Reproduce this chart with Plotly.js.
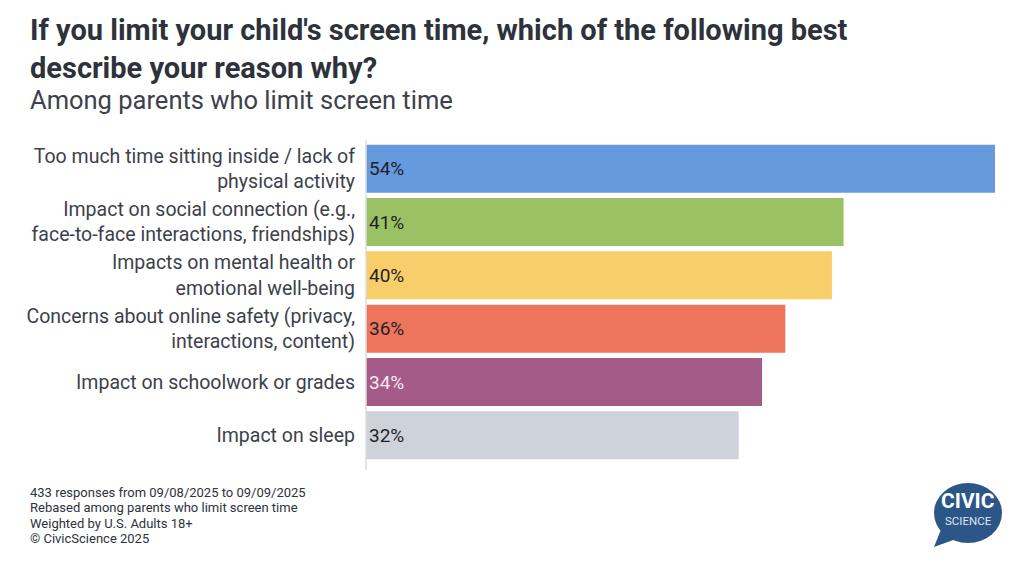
<!DOCTYPE html>
<html>
<head>
<meta charset="utf-8">
<script src="https://cdn.plot.ly/plotly-3.0.1.min.js"></script>
<style>html,body{margin:0;padding:0;background:#fff;}#chart{width:1024px;height:569px;}</style>
</head>
<body>
<div id="chart"></div>
<script>
const categories = [
  "Too much time sitting inside / lack of<br>physical activity",
  "Impact on social connection (e.g.,<br>face-to-face interactions, friendships)",
  "Impacts on mental health or<br>emotional well-being",
  "Concerns about online safety (privacy,<br>interactions, content)",
  "Impact on schoolwork or grades",
  "Impact on sleep"
];
const values = [54, 41, 40, 36, 34, 32];
const barColors = ["#6699dd", "#9ac163", "#f8ce6b", "#ec755c", "#a55b88", "#ced3da"];
const textColors = ["#1f2329", "#1f2329", "#1f2329", "#1f2329", "#f4eaf2", "#1f2329"];
const titleLines = [
  "If you limit your child's screen time, which of the following best",
  "describe your reason why?"
];
const subtitleText = "Among parents who limit screen time";
const footnoteLines = [
  "433 responses from 09/08/2025 to 09/09/2025",
  "Rebased among parents who limit screen time",
  "Weighted by U.S. Adults 18+",
  "© CivicScience 2025"
];

const FONT = "Roboto, 'Noto Sans', sans-serif";

const trace = {
  type: "bar",
  orientation: "h",
  y: categories,
  x: values,
  text: values.map(v => v + "%"),
  textposition: "inside",
  insidetextanchor: "start",
  textfont: {family: FONT, size: 19, color: textColors},
  marker: {color: barColors, line: {width: 0}},
  hoverinfo: "skip",
  cliponaxis: false
};

const W = 1024, H = 569;
const mL = 366, mR = 29, mT = 142, mB = 107;
const plotW = W - mL - mR, plotH = H - mT - mB;
const px = x => (x - mL) / plotW;
const py = y => (H - mB - y) / plotH;

const textAnn = (txt, xPix, yPix, size, color, bold) => ({
  xref: "paper", yref: "paper", x: px(xPix), y: py(yPix),
  xanchor: "left", yanchor: "middle", showarrow: false, align: "left",
  text: bold ? "<b>" + txt + "</b>" : txt,
  font: {family: FONT, size: size, color: color}
});

const footY = [492, 507, 523, 538];

const annotations = [];
annotations.push(textAnn(titleLines.join("<br>"), 28, 49, 29, "#2d323b", true));
annotations.push(textAnn(subtitleText, 28, 100, 25.5, "#3c414b", false));
footnoteLines.forEach((t, i) => annotations.push(textAnn(t, 28, footY[i], 13, "#2d323b", false)));
annotations.push({xref: "paper", yref: "paper", x: px(968), y: py(501), xanchor: "center", yanchor: "middle",
  text: "<b>CIVIC</b>", showarrow: false, font: {family: FONT, size: 21, color: "#ffffff"}});
annotations.push({xref: "paper", yref: "paper", x: px(968), y: py(521), xanchor: "center", yanchor: "middle",
  text: "SCIENCE", showarrow: false, font: {family: FONT, size: 11.5, color: "#dfe6ef"}});

const layout = {
  width: W, height: H,
  margin: {l: mL, r: mR, t: mT, b: mB, pad: 0},
  paper_bgcolor: "#ffffff",
  plot_bgcolor: "#ffffff",
  showlegend: false,
  bargap: 0.1,
  font: {family: FONT, color: "#3c414b"},
  xaxis: {range: [0, 54], visible: false, fixedrange: true},
  yaxis: {
    autorange: "reversed",
    showline: false, showgrid: false, zeroline: false,
    ticks: "", ticklabelstandoff: 10,
    tickfont: {family: FONT, size: 19.5, color: "#3c414b"},
    fixedrange: true
  },
  shapes: [
    {type: "line", xref: "paper", yref: "paper", x0: 0, x1: 0,
     y0: py(470), y1: py(140), line: {color: "#dcdcdc", width: 1.5}},
    {type: "circle", xref: "paper", yref: "paper",
     xsizemode: "pixel", ysizemode: "pixel",
     xanchor: px(968), yanchor: py(513),
     x0: -34, x1: 34, y0: -30, y1: 30,
     fillcolor: "#2c5688", line: {width: 0}},
    {type: "path", xref: "paper", yref: "paper",
     xsizemode: "pixel", ysizemode: "pixel",
     xanchor: px(968), yanchor: py(513),
     path: "M -26 -14 L -34 -34 L -12 -26 Z",
     fillcolor: "#2c5688", line: {width: 0}}
  ],
  annotations: annotations
};

Plotly.newPlot("chart", [trace], layout, {displayModeBar: false, staticPlot: true});
</script>
</body>
</html>
